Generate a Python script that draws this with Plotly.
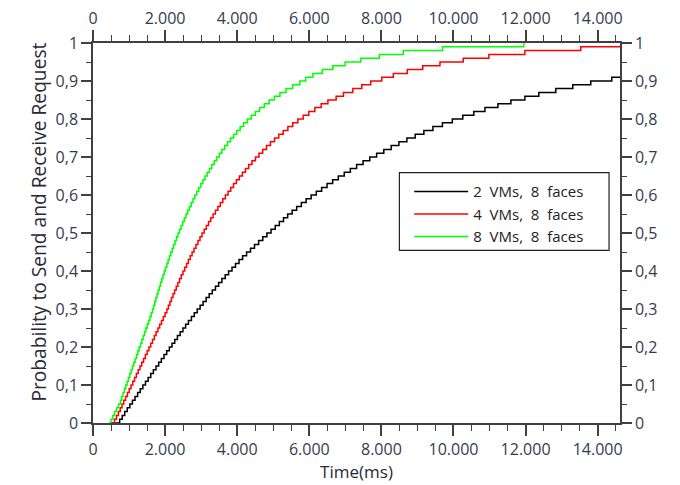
import plotly.graph_objects as go

# Percentile levels (in %) of each step-shaped CDF
levels_pct = list(range(0, 101))

# Time (ms) at which each curve reaches level k/100 (k = 0, 1, 2, ...)
t_2vms = [500, 740, 810, 880, 950, 1022, 1094, 1166, 1238, 1310,
          1383, 1456, 1529, 1602, 1675, 1748, 1822, 1896, 1970, 2044,
          2118, 2192, 2267, 2342, 2418, 2494, 2570, 2647, 2731, 2810,
          2890, 2972, 3054, 3138, 3223, 3309, 3397, 3485, 3576, 3668,
          3761, 3856, 3953, 4051, 4151, 4260, 4370, 4480, 4595, 4710,
          4825, 4940, 5055, 5170, 5285, 5400, 5524, 5650, 5780, 5913,
          6052, 6195, 6342, 6493, 6648, 6806, 6970, 7139, 7313, 7492,
          7678, 7869, 8067, 8272, 8486, 8708, 8938, 9179, 9430, 9693,
          9968, 10258, 10564, 10873, 11233, 11593, 11981, 12368, 12839, 13310,
          13809, 14391]

t_4vms = [530, 595, 652, 705, 755, 805, 854, 904, 954, 1004,
          1054, 1103, 1153, 1203, 1253, 1303, 1352, 1402, 1452, 1502,
          1552, 1601, 1651, 1701, 1751, 1801, 1850, 1900, 1950, 2000,
          2049, 2091, 2134, 2176, 2220, 2264, 2309, 2355, 2401, 2448,
          2496, 2545, 2595, 2645, 2696, 2749, 2802, 2856, 2911, 2968,
          3025, 3084, 3144, 3205, 3267, 3331, 3396, 3463, 3531, 3601,
          3672, 3746, 3821, 3898, 3978, 4059, 4144, 4230, 4319, 4411,
          4507, 4605, 4707, 4812, 4922, 5035, 5154, 5277, 5406, 5541,
          5682, 5831, 5988, 6154, 6330, 6517, 6745, 6947, 7208, 7457,
          7706, 8011, 8332, 8720, 9147, 9626, 10271, 10983, 11981, 13532]

t_8vms = [440, 500, 550, 600, 655, 708, 760, 797, 834, 872,
          909, 946, 983, 1020, 1058, 1095, 1132, 1169, 1206, 1244,
          1281, 1318, 1355, 1392, 1430, 1467, 1504, 1541, 1578, 1615,
          1652, 1682, 1713, 1744, 1776, 1808, 1840, 1873, 1907, 1941,
          1976, 2011, 2047, 2083, 2121, 2158, 2197, 2236, 2276, 2317,
          2359, 2401, 2444, 2489, 2534, 2580, 2627, 2675, 2725, 2775,
          2827, 2880, 2935, 2991, 3049, 3108, 3168, 3231, 3296, 3363,
          3431, 3503, 3576, 3653, 3732, 3814, 3900, 3989, 4083, 4180,
          4283, 4390, 4504, 4624, 4751, 4887, 5032, 5187, 5356, 5538,
          5738, 5900, 6100, 6360, 6654, 6994, 7429, 7945, 8610, 9701,
          11953]

t_end = 14620  # end of the time axis / last sample

series_names = ["2\u00a0 VMs,\u00a0 8\u00a0 faces",
                "4\u00a0 VMs,\u00a0 8\u00a0 faces",
                "8\u00a0 VMs,\u00a0 8\u00a0 faces"]
series_colors = ["#000000", "#ff0000", "#00ff00"]

x_ticks = [0, 2000, 4000, 6000, 8000, 10000, 12000, 14000]
y_ticks = [0, 0.1, 0.2, 0.3, 0.4, 0.5, 0.6, 0.7, 0.8, 0.9, 1]
y_tick_text = ["0", "0,1", "0,2", "0,3", "0,4", "0,5", "0,6", "0,7", "0,8", "0,9", "1"]
x_title = "Time(ms)"
y_title = "Probability to Send and Receive Request"


def step_xy(times, extend):
    ys = [levels_pct[i] / 100 for i in range(len(times))]
    xs = list(times)
    if extend:
        xs.append(t_end)
        ys.append(ys[-1])
    return xs, ys


fig = go.Figure()
for times, name, color, extend, xa, ya in [
    (t_2vms, series_names[0], series_colors[0], True, "x", "y"),
    (t_4vms, series_names[1], series_colors[1], True, "x", "y"),
    (t_8vms, series_names[2], series_colors[2], False, "x2", "y2"),
]:
    xs, ys = step_xy(times, extend)
    fig.add_trace(go.Scatter(x=xs, y=ys, mode="lines", name=name,
                             line=dict(color=color, width=1.5, shape="hv"),
                             xaxis=xa, yaxis=ya))

axis_col = "#404040"
title_col = "#272a36"
tick_font = dict(family="Open Sans", size=16, color="#353b4f")

x_common = dict(range=[0, t_end], tickvals=x_ticks, tickformat=",d",
                ticks="outside", ticklen=11, tickwidth=1.5, tickcolor=axis_col,
                showline=True, linecolor=axis_col, linewidth=1.5,
                showgrid=False, zeroline=False, tickfont=tick_font,
                automargin=False,
                minor=dict(dtick=500, ticks="outside", ticklen=6,
                           tickwidth=1.2, tickcolor=axis_col))
y_common = dict(range=[0, 1], tickvals=y_ticks, ticktext=y_tick_text,
                ticks="outside", ticklen=10, tickwidth=1.5, tickcolor=axis_col,
                showline=True, linecolor=axis_col, linewidth=1.5,
                showgrid=False, zeroline=False, tickfont=tick_font,
                automargin=False,
                minor=dict(dtick=0.05, ticks="outside", ticklen=5,
                           tickwidth=1.2, tickcolor=axis_col))

# The page body adds an 8px offset, so the figure is sized 8px smaller.
fig.update_layout(
    width=672, height=477,
    margin=dict(l=84.5, r=60, t=34.7, b=62),
    paper_bgcolor="white", plot_bgcolor="white",
    separators=",.",
    font=dict(family="Open Sans", size=16, color=title_col),
    xaxis=dict(**x_common, title=dict(text=x_title, standoff=2,
                                      font=dict(size=17, color=title_col))),
    xaxis2=dict(**x_common, overlaying="x", side="top", matches="x", anchor="y"),
    yaxis=dict(**y_common),
    yaxis2=dict(**y_common, overlaying="y", side="right", matches="y", anchor="x"),
    legend=dict(x=0.600, y=0.652, xanchor="left", yanchor="top",
                bgcolor="rgba(0,0,0,0)", borderwidth=0, itemwidth=54,
                font=dict(family="Open Sans", size=15, color="#222222"),
                tracegroupgap=0),
    shapes=[dict(type="rect", xref="paper", yref="paper",
                 x0=0.5814, x1=0.9792, y0=0.4541, y1=0.6588,
                 line=dict(color="#222222", width=1.2), layer="above")],
    annotations=[dict(text=y_title, xref="paper", yref="paper",
                      x=-0.1032, y=0.529, xanchor="center", yanchor="middle",
                      textangle=-90, showarrow=False,
                      font=dict(family="Open Sans", size=19.2, color=title_col))],
)

fig.write_html("out.html")
